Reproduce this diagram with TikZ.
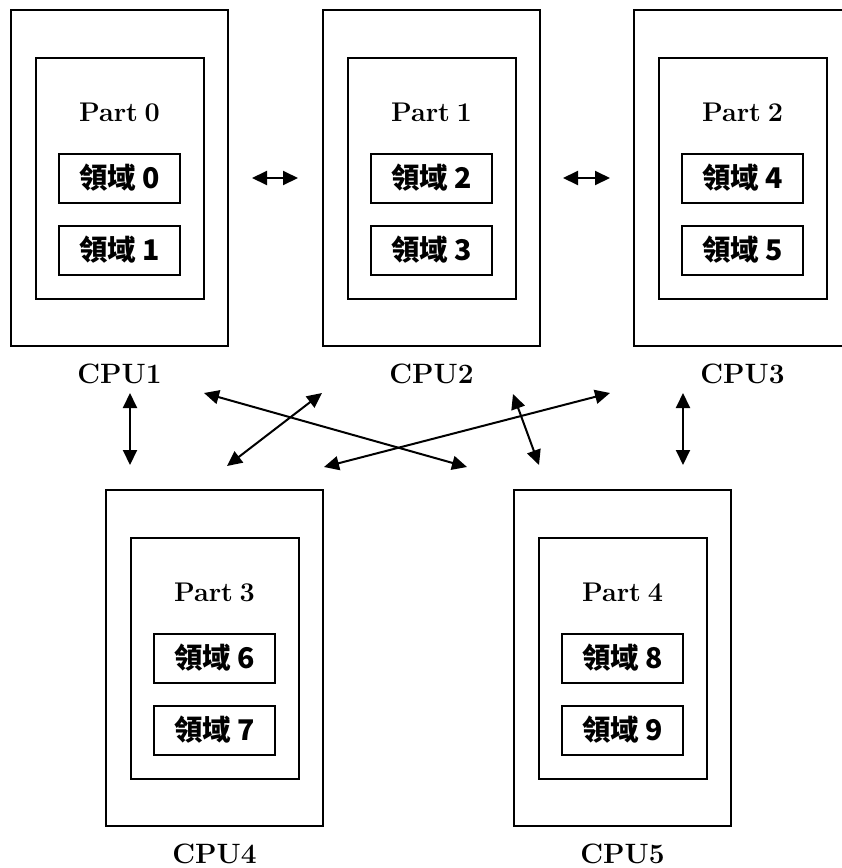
\documentclass[tikz,border=0pt]{standalone}
\usepackage{fontspec}
\newfontfamily\cjkfont{Noto Sans CJK TC}
\usetikzlibrary{arrows.meta}

\tikzset{
  cpubox/.style={draw, line width=2pt, minimum width=217pt, minimum height=336pt, inner sep=0pt},
  partbox/.style={draw, line width=2pt, minimum width=168pt, minimum height=241pt, inner sep=0pt},
  areabox/.style={draw, line width=2pt, minimum width=121pt, minimum height=49pt, inner sep=0pt,
    font=\cjkfont\bfseries\fontsize{28.5pt}{32pt}\selectfont},
  parttext/.style={font=\bfseries\fontsize{27pt}{32pt}\selectfont},
  cputext/.style={font=\bfseries\fontsize{28pt}{32pt}\selectfont},
  link/.style={line width=2pt, {Triangle[length=15pt,width=14pt]}-{Triangle[length=15pt,width=14pt]}}
}

\begin{document}
\begin{tikzpicture}[x=1pt, y=-1pt]
 \useasboundingbox (0,0) rectangle (842,868);

 % CPU boxes with their parts and regions
 \foreach \n/\x/\y/\p in {1/119.5/178/0, 2/431.5/178/1, 3/742.5/178/2, 4/214.5/658/3, 5/622.5/658/4} {
   \pgfmathtruncatemacro{\ra}{2*\p}
   \pgfmathtruncatemacro{\rb}{2*\p+1}
   \node [cpubox] (cpu\n) at (\x,\y) {};
   \node [partbox] (part\n) at (\x,\y) {};
   \node [parttext] (ptxt\n) at (\x,\y-66) {Part\hspace{0.25em}\p};
   \node [areabox] (ra\n) at (\x,\y) {領域 \ra};
   \node [areabox] (rb\n) at (\x,\y+72) {領域 \rb};
   \node [cputext] (lab\n) at (\x,\y+196) {CPU\n};
 }

 % arrow ends
 \coordinate (h1a) at (252,178);  \coordinate (h1b) at (298,178);
 \coordinate (h2a) at (563,178);  \coordinate (h2b) at (610,178);
 \coordinate (v1a) at (130,393);  \coordinate (v1b) at (130,465);
 \coordinate (v3a) at (683,393);  \coordinate (v3b) at (683,465);
 \coordinate (d15a) at (204,393); \coordinate (d15b) at (467,467);
 \coordinate (d42a) at (227,466); \coordinate (d42b) at (322,393);
 \coordinate (d43a) at (324,467); \coordinate (d43b) at (610,393);
 \coordinate (d25a) at (513,394); \coordinate (d25b) at (539,465);

 \draw [link] (h1a) -- (h1b);
 \draw [link] (h2a) -- (h2b);
 \draw [link] (v1a) -- (v1b);
 \draw [link] (v3a) -- (v3b);
 \draw [link] (d15a) -- (d15b);
 \draw [link] (d42a) -- (d42b);
 \draw [link] (d43a) -- (d43b);
 \draw [link] (d25a) -- (d25b);
\end{tikzpicture}
\end{document}
